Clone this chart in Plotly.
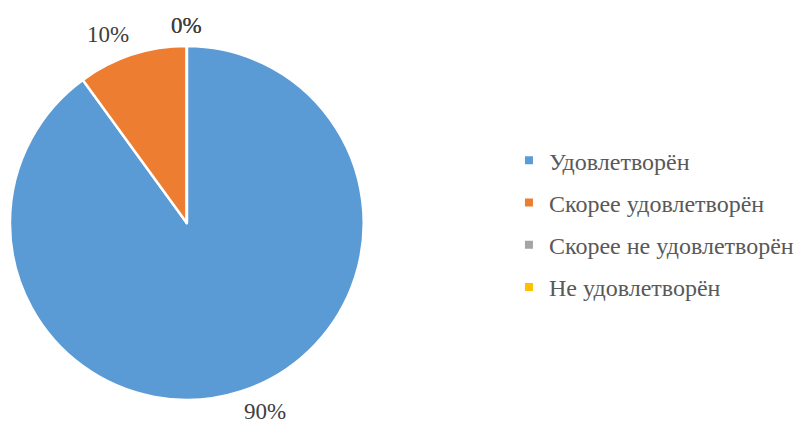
import math
import plotly.graph_objects as go

categories = ["Удовлетворён", "Скорее удовлетворён", "Скорее не удовлетворён", "Не удовлетворён"]
values = [90, 10, 0, 0]
colors = ["#5B9BD5", "#ED7D31", "#A5A5A5", "#FFC000"]

W, H = 799, 427
CX, CY, R = 188, 223, 178  # pie centre / radius in px
GAP = 6                    # label distance outside the edge, px
FONT = "Liberation Serif"

fig = go.Figure()
fig.add_trace(go.Pie(
    labels=categories, values=values, sort=False, direction="clockwise", rotation=0,
    marker=dict(colors=colors, line=dict(color="white", width=2.5)),
    textinfo="none", hoverinfo="label+percent", showlegend=False,
    domain=dict(x=[(CX - R) / W, (CX + R) / W], y=[1 - (CY + R) / H, 1 - (CY - R) / H]),
))

# legend via dummy square markers
for name, c in zip(categories, colors):
    fig.add_trace(go.Scatter(x=[None], y=[None], mode="markers", name=name,
                             marker=dict(symbol="square", size=8, color=c),
                             legendgroup=name, showlegend=True))

# data labels placed just outside each slice's mid-angle
total = sum(values)
cum = 0
for v in values:
    mid = (cum + v / 2) / total * 2 * math.pi
    cum += v
    s, c = math.sin(mid), math.cos(mid)
    px = CX + (R + GAP) * s
    py = CY - (R + GAP) * c
    xa = "left" if s > 0.1 else ("right" if s < -0.1 else "center")
    ya = "bottom" if c > 0 else "top"
    fig.add_annotation(x=px / W, y=1 - py / H, xref="paper", yref="paper",
                       xanchor=xa, yanchor=ya, borderpad=0,
                       text=f"{round(v / total * 100)}%", showarrow=False,
                       font=dict(family=FONT, size=23, color="#404040"))

fig.update_layout(
    width=W, height=H, margin=dict(l=0, r=0, t=0, b=0),
    paper_bgcolor="white", plot_bgcolor="white",
    font=dict(family=FONT),
    xaxis=dict(visible=False), yaxis=dict(visible=False),
    legend=dict(x=0.641, y=0.476, xanchor="left", yanchor="middle",
                font=dict(family=FONT, size=24, color="#595959"),
                tracegroupgap=8, itemwidth=30, traceorder="grouped"),
)
fig.write_html("out.html", config={"displayModeBar": False},
               post_script="document.body.style.margin='0';")
